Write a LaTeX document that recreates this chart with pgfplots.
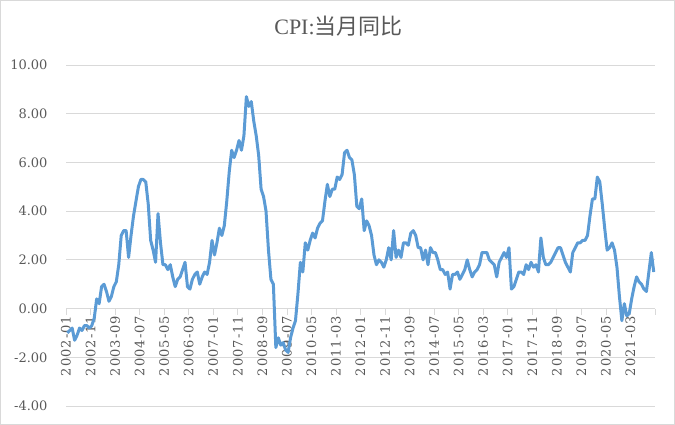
\documentclass[border=0pt]{standalone}
\usepackage{pgfplots}
\pgfplotsset{compat=1.18}
\usepackage{pgfplotstable}
\usepackage{fontspec}
\setmainfont{DejaVu Serif}
\newfontfamily\cjk{Noto Sans CJK SC}
\newfontfamily\titlefont{Liberation Serif}
\newfontfamily\xfont[LetterSpace=8]{DejaVu Serif}
\definecolor{lineblue}{HTML}{5B9BD5}
\definecolor{gridgray}{HTML}{D9D9D9}
\definecolor{txtgray}{HTML}{595959}

% CPI y/y (%), monthly 2002-01 ... 2021-12
\pgfplotstableread{
v
-1.0
-0.9
-0.8
-1.3
-1.1
-0.8
-0.9
-0.7
-0.7
-0.8
-0.7
-0.4
0.4
0.2
0.9
1.0
0.7
0.3
0.5
0.9
1.1
1.8
3.0
3.2
3.2
2.1
3.0
3.8
4.4
5.0
5.3
5.3
5.2
4.3
2.8
2.4
1.9
3.9
2.7
1.8
1.8
1.6
1.8
1.3
0.9
1.2
1.3
1.6
1.9
0.9
0.8
1.2
1.4
1.5
1.0
1.3
1.5
1.4
1.9
2.8
2.2
2.7
3.3
3.0
3.4
4.4
5.6
6.5
6.2
6.5
6.9
6.5
7.1
8.7
8.3
8.5
7.7
7.1
6.3
4.9
4.6
4.0
2.4
1.2
1.0
-1.6
-1.2
-1.5
-1.4
-1.7
-1.8
-1.2
-0.8
-0.5
0.6
1.9
1.5
2.7
2.4
2.8
3.1
2.9
3.3
3.5
3.6
4.4
5.1
4.6
4.9
4.9
5.4
5.3
5.5
6.4
6.5
6.2
6.1
5.5
4.2
4.1
4.5
3.2
3.6
3.4
3.0
2.2
1.8
2.0
1.9
1.7
2.0
2.5
2.0
3.2
2.1
2.4
2.1
2.7
2.7
2.6
3.1
3.2
3.0
2.5
2.5
2.0
2.4
1.8
2.5
2.3
2.3
2.0
1.6
1.6
1.4
1.5
0.8
1.4
1.4
1.5
1.2
1.4
1.6
2.0
1.6
1.3
1.5
1.6
1.8
2.3
2.3
2.3
2.0
1.9
1.8
1.3
1.9
2.1
2.3
2.1
2.5
0.8
0.9
1.2
1.5
1.5
1.4
1.8
1.6
1.9
1.7
1.8
1.5
2.9
2.1
1.8
1.8
1.9
2.1
2.3
2.5
2.5
2.2
1.9
1.7
1.5
2.3
2.5
2.7
2.7
2.8
2.8
3.0
3.8
4.5
4.5
5.4
5.2
4.3
3.3
2.4
2.5
2.7
2.4
1.7
0.5
-0.5
0.2
-0.3
-0.2
0.4
0.9
1.3
1.1
1.0
0.8
0.7
1.5
2.3
1.5
}\cpi

\begin{document}
\begin{tikzpicture}
\useasboundingbox (0,0) rectangle (675bp,425bp);
\draw[gridgray, line width=1bp] (0.5bp,0.5bp) rectangle (674.5bp,424.5bp);
\begin{axis}[
  at={(66bp,19bp)}, anchor=south west,
  scale only axis, width=589bp, height=341bp,
  xmin=0, xmax=240, ymin=-4, ymax=10,
  axis x line=middle, axis y line=left,
  axis line style={-, draw=gridgray, line width=0.75bp},
  y axis line style={draw=none},
  hide obscured x ticks=false,
  xtick={0,10,...,240},
  xticklabels={2002-01,2002-11,2003-09,2004-07,2005-05,2006-03,2007-01,2007-11,2008-09,2009-07,2010-05,2011-03,2012-01,2012-11,2013-09,2014-07,2015-05,2016-03,2017-01,2017-11,2018-09,2019-07,2020-05,2021-03,{}},
  xtick style={draw=gridgray, line width=0.75bp},
  tick align=outside,
  major tick length=6bp,
  xticklabel style={rotate=90, anchor=east, font=\xfont\fontsize{13bp}{15bp}\selectfont, text=txtgray, inner sep=1bp},
  ytick={-4,-2,0,2,4,6,8,10},
  yticklabels={-4.00,-2.00,0.00,2.00,4.00,6.00,8.00,10.00},
  ytick style={draw=none},
  yticklabel style={anchor=east, xshift=-9bp, font=\fontsize{13bp}{15bp}\selectfont, text=txtgray},
  ymajorgrids,
  major grid style={draw=gridgray, line width=0.75bp},
  title={\titlefont CPI:\cjk 当月同比},
  title style={at={(0.5,1)}, anchor=center, yshift=33bp, xshift=-22bp, font=\fontsize{22bp}{26bp}\selectfont, text=txtgray},
]
\addplot[lineblue, line width=3bp, line join=round, no markers] table[x expr=\coordindex+0.5, y=v] {\cpi};
\end{axis}
\end{tikzpicture}
\end{document}
